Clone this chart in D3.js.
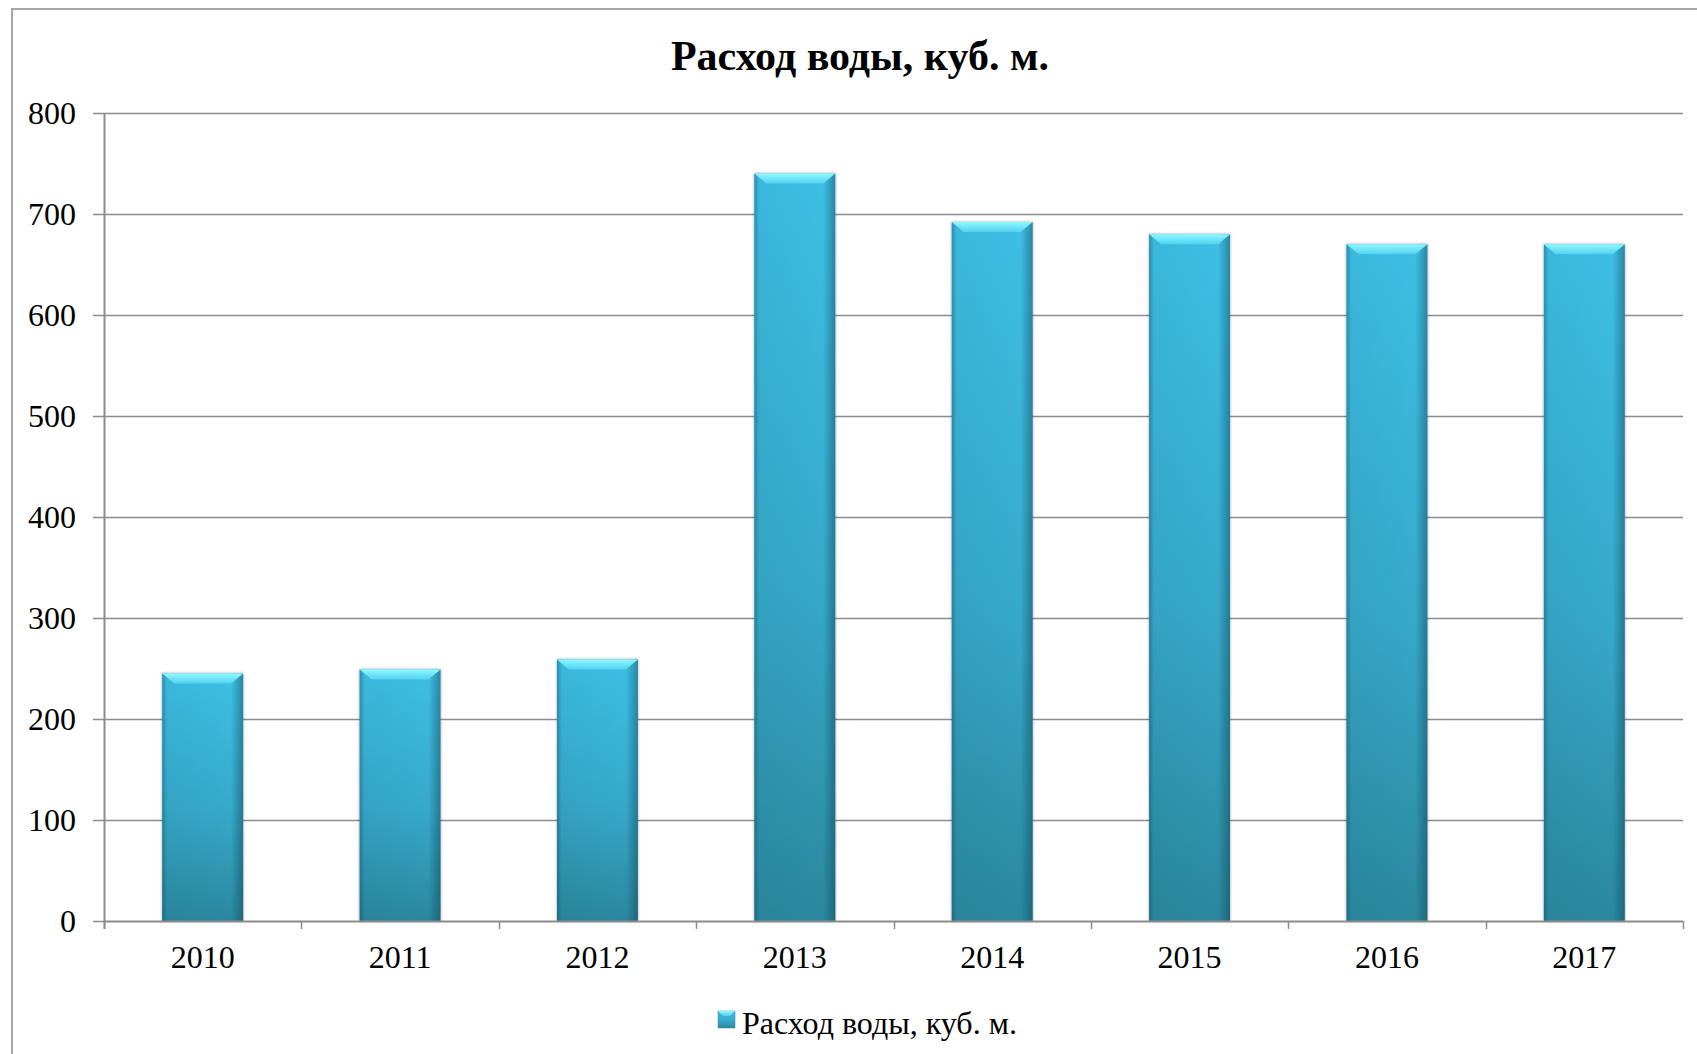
<!DOCTYPE html>
<html>
<head>
<meta charset="utf-8">
<script src="https://cdn.jsdelivr.net/npm/d3@7"></script>
<style>
  html, body { margin: 0; padding: 0; background: #ffffff; }
  svg { display: block; }
  text { font-family: "Liberation Serif", "Times New Roman", serif; fill: #000; }
</style>
</head>
<body>
<div id="chart"></div>
<script>
// data
const years = ["2010", "2011", "2012", "2013", "2014", "2015", "2016", "2017"];
const consumption = [245, 249, 259, 740, 692, 680, 670, 670];
const yTicks = [0, 100, 200, 300, 400, 500, 600, 700, 800];
const chartTitle = "Расход воды, куб. м.";
const seriesName = "Расход воды, куб. м.";

// layout
const width = 1697;
const height = 1054;
const plot = { left: 104, right: 1683, top: 113, bottom: 921 };
const gridColour = "#8c8c8c";
const labelSize = 32;

const svg = d3
  .select("#chart")
  .append("svg")
  .attr("width", width)
  .attr("height", height);

const defs = svg.append("defs");

const bodyGrad = defs
  .append("linearGradient")
  .attr("id", "barBody")
  .attr("x1", 0).attr("y1", 0).attr("x2", 0).attr("y2", 1);
bodyGrad.append("stop").attr("offset", "0%").attr("stop-color", "#3dbfe5");
bodyGrad.append("stop").attr("offset", "55%").attr("stop-color", "#36a9ca");
bodyGrad.append("stop").attr("offset", "100%").attr("stop-color", "#2b889f");

const sideGrad = defs
  .append("linearGradient")
  .attr("id", "barSide")
  .attr("x1", 0).attr("y1", 0).attr("x2", 1).attr("y2", 0);
sideGrad.append("stop").attr("offset", "0%").attr("stop-color", "#0b3340").attr("stop-opacity", 0.35);
sideGrad.append("stop").attr("offset", "6%").attr("stop-color", "#0b3340").attr("stop-opacity", 0.05);
sideGrad.append("stop").attr("offset", "85%").attr("stop-color", "#0b3340").attr("stop-opacity", 0.0);
sideGrad.append("stop").attr("offset", "100%").attr("stop-color", "#0b3340").attr("stop-opacity", 0.4);

const topGrad = defs
  .append("linearGradient")
  .attr("id", "barTop")
  .attr("x1", 0).attr("y1", 0).attr("x2", 0).attr("y2", 1);
topGrad.append("stop").attr("offset", "0%").attr("stop-color", "#8ff8ff");
topGrad.append("stop").attr("offset", "100%").attr("stop-color", "#52d2ef");

const shadow = defs.append("filter").attr("id", "barShadow")
  .attr("x", "-20%").attr("y", "-5%").attr("width", "140%").attr("height", "110%");
shadow.append("feDropShadow")
  .attr("dx", 0).attr("dy", 0)
  .attr("stdDeviation", 1.6)
  .attr("flood-color", "#000")
  .attr("flood-opacity", 0.35);

// outer chart border (runs past the frame on the right and bottom)
svg
  .append("rect")
  .attr("x", 12)
  .attr("y", 9)
  .attr("width", 1700)
  .attr("height", 1060)
  .attr("fill", "none")
  .attr("stroke", "#a6a6a6")
  .attr("stroke-width", 2);

// scales
const x = d3
  .scaleBand()
  .domain(years)
  .range([plot.left, plot.right])
  .paddingInner(0.59)
  .paddingOuter(0.295);

const xCat = d3.scaleBand().domain(years).range([plot.left, plot.right]);

const y = d3
  .scaleLinear()
  .domain([0, 800])
  .range([plot.bottom, plot.top]);

// gridlines
svg
  .append("g")
  .selectAll("line")
  .data(yTicks.filter(d => d > 0))
  .enter()
  .append("line")
  .attr("x1", plot.left)
  .attr("x2", plot.right)
  .attr("y1", d => Math.round(y(d)) + 0.5)
  .attr("y2", d => Math.round(y(d)) + 0.5)
  .attr("stroke", gridColour)
  .attr("stroke-width", 1.5);

// y axis
const yAxis = svg
  .append("g")
  .attr("transform", `translate(${plot.left},0)`)
  .call(
    d3
      .axisLeft(y)
      .tickValues(yTicks)
      .tickSize(11)
      .tickPadding(17)
      .tickFormat(d3.format("d")),
  );
yAxis.select(".domain").remove();
yAxis.selectAll(".tick line").attr("stroke", gridColour).attr("stroke-width", 1.5);
yAxis
  .selectAll(".tick text")
  .attr("font-size", labelSize)
  .attr("font-family", "'Liberation Serif', serif")
  .attr("fill", "#000")
  .attr("dy", "0.34em");

svg
  .append("line")
  .attr("x1", plot.left + 0.5)
  .attr("x2", plot.left + 0.5)
  .attr("y1", plot.top)
  .attr("y2", plot.bottom + 8)
  .attr("stroke", gridColour)
  .attr("stroke-width", 2);

// bars
const bars = svg
  .append("g")
  .selectAll("g")
  .data(years.map((yr, i) => ({ year: yr, value: consumption[i] })))
  .enter()
  .append("g")
  .attr("filter", "url(#barShadow)");

bars
  .append("rect")
  .attr("x", d => x(d.year))
  .attr("y", d => y(d.value))
  .attr("width", x.bandwidth())
  .attr("height", d => y(0) - y(d.value))
  .attr("fill", "url(#barBody)");

bars
  .append("rect")
  .attr("x", d => x(d.year))
  .attr("y", d => y(d.value))
  .attr("width", x.bandwidth())
  .attr("height", d => y(0) - y(d.value))
  .attr("fill", "url(#barSide)");

const bevel = 10;
bars
  .append("path")
  .attr("d", d => {
    const x0 = x(d.year);
    const x1 = x0 + x.bandwidth();
    const t = y(d.value);
    return `M${x0},${t}L${x1},${t}L${x1 - bevel * 1.2},${t + bevel}L${x0 + bevel * 1.2},${t + bevel}Z`;
  })
  .attr("fill", "url(#barTop)");

// x axis line and category ticks
svg
  .append("line")
  .attr("x1", plot.left)
  .attr("x2", plot.right)
  .attr("y1", plot.bottom + 0.5)
  .attr("y2", plot.bottom + 0.5)
  .attr("stroke", gridColour)
  .attr("stroke-width", 2);

const boundaries = years.map(d => xCat(d)).concat([plot.right]);
svg
  .append("g")
  .selectAll("line")
  .data(boundaries)
  .enter()
  .append("line")
  .attr("x1", d => Math.round(d) + 0.5)
  .attr("x2", d => Math.round(d) + 0.5)
  .attr("y1", plot.bottom)
  .attr("y2", plot.bottom + 8)
  .attr("stroke", gridColour)
  .attr("stroke-width", 1.5);

svg
  .append("g")
  .selectAll("text")
  .data(years)
  .enter()
  .append("text")
  .attr("x", d => xCat(d) + xCat.bandwidth() / 2)
  .attr("y", 968)
  .attr("text-anchor", "middle")
  .attr("font-size", labelSize)
  .text(d => d);

// title
svg
  .append("text")
  .attr("x", 860)
  .attr("y", 70)
  .attr("text-anchor", "middle")
  .attr("font-size", 42)
  .attr("font-weight", "bold")
  .text(chartTitle);

// legend
const legend = svg.append("g").attr("transform", "translate(718,1011)");
legend
  .append("rect")
  .attr("width", 17)
  .attr("height", 17)
  .attr("fill", "url(#barBody)")
  .attr("stroke", "#2b889f")
  .attr("stroke-width", 0.5);
legend
  .append("path")
  .attr("d", "M0,0L17,0L12,5L5,5Z")
  .attr("fill", "url(#barTop)");
legend
  .append("text")
  .attr("x", 24)
  .attr("y", 23)
  .attr("font-size", labelSize)
  .text(seriesName);
</script>
</body>
</html>
